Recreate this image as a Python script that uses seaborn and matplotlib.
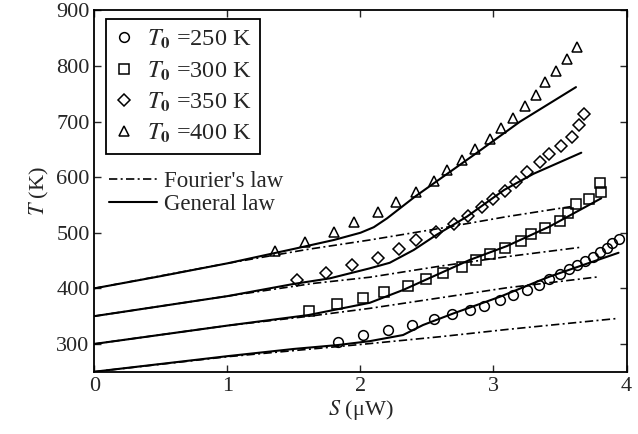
import matplotlib
matplotlib.use("Agg")
import matplotlib.pyplot as plt
import seaborn as sns

sns.set_style("ticks")
plt.rcParams['font.family'] = ['Liberation Serif', 'DejaVu Serif']
plt.rcParams['mathtext.fontset'] = 'stix'
plt.rcParams['xtick.direction'] = 'in'
plt.rcParams['ytick.direction'] = 'in'

# measured points (markers)
s_250 = [1.83, 2.02, 2.21, 2.39, 2.55, 2.69, 2.82, 2.93, 3.05, 3.15, 3.25, 3.34,
         3.42, 3.50, 3.57, 3.63, 3.69, 3.75, 3.80, 3.85, 3.89, 3.94]
t_250 = [303, 316, 325, 334, 344, 353, 361, 369, 379, 388, 397, 406,
         416, 425, 434, 442, 450, 457, 465, 473, 481, 488]
s_300 = [1.61, 1.82, 2.02, 2.18, 2.36, 2.49, 2.62, 2.76, 2.87, 2.97, 3.09, 3.21,
         3.28, 3.39, 3.50, 3.56, 3.62, 3.72, 3.81, 3.80]
t_300 = [359, 371, 382, 394, 404, 416, 428, 439, 451, 462, 473, 485,
         497, 508, 521, 535, 551, 560, 573, 590]
s_350 = [1.52, 1.74, 1.94, 2.13, 2.29, 2.42, 2.57, 2.70, 2.81, 2.91, 3.00, 3.09,
         3.17, 3.25, 3.35, 3.42, 3.51, 3.59, 3.64, 3.68]
t_350 = [415, 428, 442, 454, 470, 487, 502, 516, 531, 546, 561, 575,
         592, 609, 627, 641, 656, 673, 694, 714]
s_400 = [1.36, 1.58, 1.80, 1.95, 2.13, 2.27, 2.42, 2.55, 2.65, 2.76, 2.86, 2.97,
         3.06, 3.15, 3.24, 3.32, 3.39, 3.47, 3.55, 3.63]
t_400 = [467, 484, 502, 520, 538, 555, 574, 593, 613, 631, 650, 669,
         688, 707, 728, 748, 771, 791, 812, 835]

# general law curves
sg_250 = [0, 1, 1.5, 1.83, 2.07, 2.32, 2.47, 2.7, 3.05, 3.42, 3.94]
tg_250 = [250, 278, 291, 298, 305, 316, 334, 355, 385, 421, 464]
sg_300 = [0, 1, 1.61, 2.07, 2.32, 2.57, 2.82, 3.1, 3.42, 3.81]
tg_300 = [300, 333, 352, 374, 397, 424, 451, 476, 511, 562]
sg_350 = [0, 1, 1.5, 1.77, 2.07, 2.22, 2.4, 2.57, 2.8, 3.08, 3.3, 3.66]
tg_350 = [350, 386, 408, 418, 436, 446, 469, 496, 529, 577, 606, 644]
sg_400 = [0, 0.5, 1, 1.5, 1.8, 2.0, 2.1, 2.2, 2.41, 2.87, 3.2, 3.62]
tg_400 = [400, 422, 445, 471, 487, 500, 510, 526, 565, 643, 700, 762]

# Fourier's law curves
sf_250 = [0, 1, 2, 2.6, 3.1, 3.94]
tf_250 = [250, 277, 299, 313, 326, 346]
sf_300 = [0, 1, 1.62, 2.07, 2.6, 3.1, 3.8]
tf_300 = [300, 333, 350, 364, 383, 401, 421]
sf_350 = [0, 1, 1.65, 2.07, 2.6, 3.1, 3.66]
tf_350 = [350, 386, 409, 420, 440, 457, 474]
sf_400 = [0, 1, 1.6, 2.07, 2.6, 3.1, 3.58]
tf_400 = [400, 445, 470, 487, 508, 529, 547]

fig = plt.figure(figsize=(6.38, 4.34), dpi=100)
ax = fig.add_axes([0.148, 0.1435, 0.834, 0.8325])

dashdot = (0, (5, 2, 1.2, 2))
fourier = [(sf_250, tf_250), (sf_300, tf_300), (sf_350, tf_350), (sf_400, tf_400)]
general = [(sg_250, tg_250), (sg_300, tg_300), (sg_350, tg_350), (sg_400, tg_400)]

for i, (s, t) in enumerate(fourier):
    sns.lineplot(x=s, y=t, ax=ax, color='k', linewidth=1.2, linestyle=dashdot,
                 estimator=None, sort=False, label="Fourier's law" if i == 0 else None)
for i, (s, t) in enumerate(general):
    sns.lineplot(x=s, y=t, ax=ax, color='k', linewidth=1.5,
                 estimator=None, sort=False, label="General law" if i == 0 else None)

series = [(s_250, t_250, 'o', 7, '250'), (s_300, t_300, 's', 7, '300'),
          (s_350, t_350, 'D', 6, '350'), (s_400, t_400, '^', 7.5, '400')]
for s, t, m, ms, lab in series:
    sns.lineplot(x=s, y=t, ax=ax, color='k', marker=m, linestyle='none', ms=ms,
                 mfc='none', mec='k', mew=1.1, estimator=None, sort=False,
                 label=r'$T_\mathbf{0}$ =' + lab + ' K')

ax.set_xlim(0, 4)
ax.set_ylim(250, 900)
ax.set_xticks([0, 1, 2, 3, 4])
ax.set_yticks([300, 400, 500, 600, 700, 800, 900])
ax.tick_params(labelsize=16, top=True, right=True, length=5, width=1)
for sp in ax.spines.values():
    sp.set_linewidth(1.3)
    sp.set_color('k')
ax.set_xlabel(r'$S$ (μW)', fontsize=16, labelpad=2)
ax.set_ylabel(r'$T$ (K)', fontsize=16, labelpad=4)

handles, labels = ax.get_legend_handles_labels()
leg1 = ax.legend(handles[2:], labels[2:], loc='upper left', bbox_to_anchor=(0.022, 0.975),
                 borderaxespad=0, fontsize=17.5, frameon=True, fancybox=False,
                 edgecolor='k', framealpha=1, handlelength=0.8, handletextpad=0.55,
                 labelspacing=0.33, borderpad=0.35)
leg1.get_frame().set_linewidth(1.3)
ax.add_artist(leg1)
ax.legend(handles[:2], labels[:2], loc='upper left', bbox_to_anchor=(0.015, 0.575),
          borderaxespad=0, fontsize=16.5, frameon=False, handlelength=2.1,
          handletextpad=0.3, labelspacing=0.1, borderpad=0.3)

fig.savefig('out.png', dpi=100)
